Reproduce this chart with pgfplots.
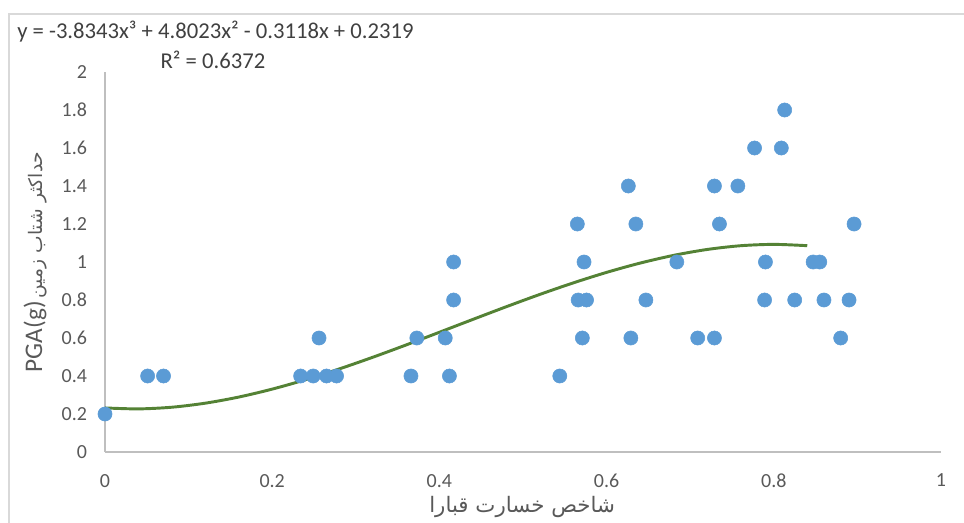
\documentclass[border=0pt]{standalone}
\usepackage{fontspec}
\setmainfont{Carlito}
\newfontfamily\arabicfont[Script=Arabic]{DejaVu Sans}
\usepackage{pgfplots}
\pgfplotsset{compat=1.18}
\TeXXeTstate=1
\definecolor{ptblue}{HTML}{5B9BD5}
\definecolor{trend}{HTML}{548235}
\definecolor{txtgray}{HTML}{595959}
\definecolor{eqgray}{HTML}{404040}
\definecolor{axgray}{HTML}{BFBFBF}
\definecolor{framegray}{HTML}{D9D9D9}
\begin{document}
\begin{tikzpicture}[x=0.75pt,y=0.75pt]
\path[use as bounding box] (-105,-70) rectangle (859,452);
\draw[framegray, line width=1.5pt] (-96,-80) -- (-96,438) -- (870,438);
\begin{axis}[
  at={(0,0)}, anchor=south west,
  scale only axis, width=627pt, height=285pt,
  xmin=0, xmax=1, ymin=0, ymax=2,
  axis x line*=bottom, axis y line*=left,
  axis line style={axgray, line width=1.1pt, -},
  xtick={0,0.2,0.4,0.6,0.8,1},
  ytick={0,0.2,0.4,0.6,0.8,1,1.2,1.4,1.6,1.8,2},
  major tick length=0pt,
  /pgf/number format/assume math mode=true,
  /pgf/number format/fixed,
  tick label style={font=\fontsize{15}{17}\selectfont, text=txtgray},
  xticklabel style={yshift=-13pt},
  yticklabel style={xshift=-10pt},
  xlabel={\arabicfont\fontsize{16}{18}\selectfont\beginR شاخص خسارت قبارا\endR},
  ylabel={\beginR{\arabicfont\fontsize{14}{16}\selectfont حداکثر شتاب زمین} \beginL{\fontsize{19}{21}\selectfont PGA(g)}\endL\endR},
  xlabel style={text=txtgray, at={(axis description cs:0.499,-0.1447)}, anchor=center},
  ylabel style={text=txtgray, at={(axis description cs:-0.0837,0.5)}, anchor=center},
  clip=false,
]
\addplot[only marks, mark=*, mark size=5.3pt, mark options={fill=ptblue, draw=ptblue}] coordinates {
(0,0.2)
(0.051,0.4)(0.070,0.4)(0.234,0.4)(0.249,0.4)(0.265,0.4)(0.277,0.4)(0.366,0.4)(0.412,0.4)(0.544,0.4)
(0.256,0.6)(0.373,0.6)(0.407,0.6)(0.571,0.6)(0.629,0.6)(0.709,0.6)(0.729,0.6)(0.880,0.6)
(0.417,0.8)(0.566,0.8)(0.576,0.8)(0.647,0.8)(0.789,0.8)(0.825,0.8)(0.860,0.8)(0.890,0.8)
(0.417,1.0)(0.573,1.0)(0.684,1.0)(0.790,1.0)(0.847,1.0)(0.855,1.0)
(0.565,1.2)(0.635,1.2)(0.735,1.2)(0.896,1.2)
(0.626,1.4)(0.729,1.4)(0.757,1.4)
(0.777,1.6)(0.809,1.6)
(0.813,1.8)
};
\addplot[trend, line width=2.2pt, smooth, no marks] coordinates {
(0,0.2319)(0.04,0.2269)(0.08,0.2357)(0.12,0.2570)(0.16,0.2892)(0.2,0.3310)
(0.24,0.3807)(0.28,0.4369)(0.32,0.4982)(0.36,0.5631)(0.40,0.6302)(0.44,0.6978)
(0.48,0.7646)(0.52,0.8292)(0.56,0.8899)(0.60,0.9454)(0.64,0.9942)(0.68,1.0348)
(0.72,1.0658)(0.76,1.0856)(0.80,1.0928)(0.84,1.0859)
};
\end{axis}
\node[anchor=west, text=eqgray, font=\fontsize{17}{19}\selectfont, inner sep=0pt] at (-88,420) {y = -3.8343x³ + 4.8023x² - 0.3118x + 0.2319};
\node[text=eqgray, font=\fontsize{17}{19}\selectfont, inner sep=0pt] at (108,392) {R² = 0.6372};
\end{tikzpicture}
\end{document}
